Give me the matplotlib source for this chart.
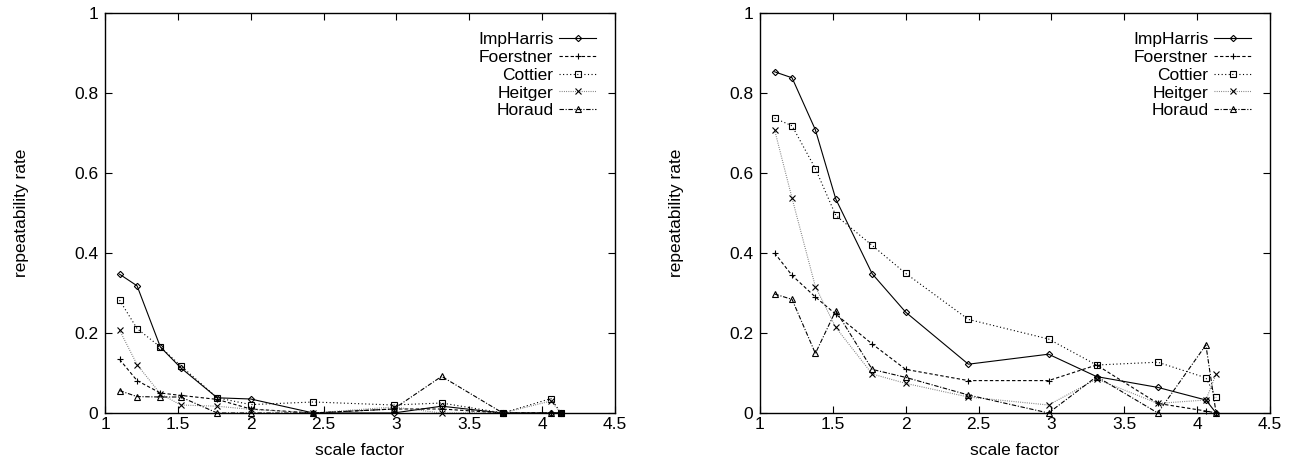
import matplotlib
matplotlib.use("Agg")
import matplotlib.pyplot as plt

plt.rcParams['font.family'] = ['Liberation Sans', 'DejaVu Sans']

scale = [1.1, 1.22, 1.38, 1.52, 1.77, 2.0, 2.43, 2.98, 3.31, 3.73, 4.06, 4.13]

# left panel
imp_l = [0.347, 0.318, 0.165, 0.113, 0.038, 0.035, 0.0, 0.0, 0.017, 0.0, 0.0, 0.0]
foe_l = [0.134, 0.081, 0.050, 0.044, 0.034, 0.010, 0.0, 0.010, 0.010, 0.0, 0.0, 0.0]
cot_l = [0.282, 0.211, 0.165, 0.118, 0.038, 0.021, 0.0275, 0.020, 0.025, 0.0, 0.036, 0.0]
hei_l = [0.207, 0.121, 0.048, 0.020, 0.017, 0.009, 0.0, 0.015, 0.0, 0.0, 0.030, 0.0]
hor_l = [0.056, 0.041, 0.040, 0.040, 0.0, 0.0, 0.0, 0.010, 0.0915, 0.0, 0.0, 0.0]

# right panel
imp_r = [0.853, 0.838, 0.708, 0.535, 0.348, 0.252, 0.122, 0.147, 0.091, 0.064, 0.0325, 0.0]
foe_r = [0.400, 0.344, 0.290, 0.247, 0.1725, 0.109, 0.081, 0.081, 0.120, 0.024, 0.005, 0.0]
cot_r = [0.737, 0.718, 0.611, 0.494, 0.419, 0.349, 0.234, 0.185, 0.120, 0.127, 0.088, 0.039]
hei_r = [0.708, 0.537, 0.316, 0.214, 0.0975, 0.074, 0.040, 0.020, 0.085, 0.024, 0.0325, 0.0975]
hor_r = [0.2975, 0.284, 0.149, 0.256, 0.109, 0.089, 0.045, 0.0, 0.091, 0.0, 0.170, 0.0]

names = ["ImpHarris", "Foerstner", "Cottier", "Heitger", "Horaud"]
xticks = [1, 1.5, 2, 2.5, 3, 3.5, 4, 4.5]
yticks = [0, 0.2, 0.4, 0.6, 0.8, 1]

styles = [
    dict(color='black', linestyle='-', marker='D', markersize=3.2),
    dict(color='black', linestyle=(0, (3, 2)), marker='+', markersize=5),
    dict(color='black', linestyle=(0, (1, 2.2)), marker='s', markersize=5),
    dict(color='#777777', linestyle=(0, (0.8, 1.2)), marker='x', markersize=5, markeredgecolor='black'),
    dict(color='black', linestyle=(0, (4, 1.5, 1, 1.5)), marker='^', markersize=4.5),
]

FS = 12.5

fig = plt.figure(figsize=(12.94, 4.61), dpi=100)
ax1 = fig.add_axes([105/1294, 1-413/461, 510/1294, 400/461])
ax2 = fig.add_axes([760/1294, 1-413/461, 510/1294, 400/461])

for ax, data in ((ax1, [imp_l, foe_l, cot_l, hei_l, hor_l]),
                 (ax2, [imp_r, foe_r, cot_r, hei_r, hor_r])):
    for name, ys, st in zip(names, data, styles):
        ax.plot(scale, ys, label=name, linewidth=0.8, markerfacecolor='none',
                markeredgewidth=0.8, clip_on=False, **st)
    ax.set_xlim(1, 4.5)
    ax.set_ylim(0, 1)
    ax.set_xticks(xticks)
    ax.set_xticklabels(['1', '1.5', '2', '2.5', '3', '3.5', '4', '4.5'])
    ax.set_yticks(yticks)
    ax.set_yticklabels(['0', '0.2', '0.4', '0.6', '0.8', '1'])
    ax.tick_params(direction='in', top=True, right=True, length=5, width=0.8,
                   labelsize=FS, colors='black')
    ax.tick_params(axis='x', pad=3)
    ax.tick_params(axis='y', pad=5)
    for sp in ax.spines.values():
        sp.set_linewidth(1.0)
    ax.set_xlabel('scale factor', fontsize=FS, labelpad=8)
    ax.set_ylabel('repeatability rate', fontsize=FS, labelpad=32)
    leg = ax.legend(loc='upper right', frameon=False, markerfirst=False,
                    fontsize=FS, handlelength=2.1, handletextpad=0.35,
                    labelspacing=0.15, borderaxespad=0.7)

fig.savefig('out.png', dpi=100)
